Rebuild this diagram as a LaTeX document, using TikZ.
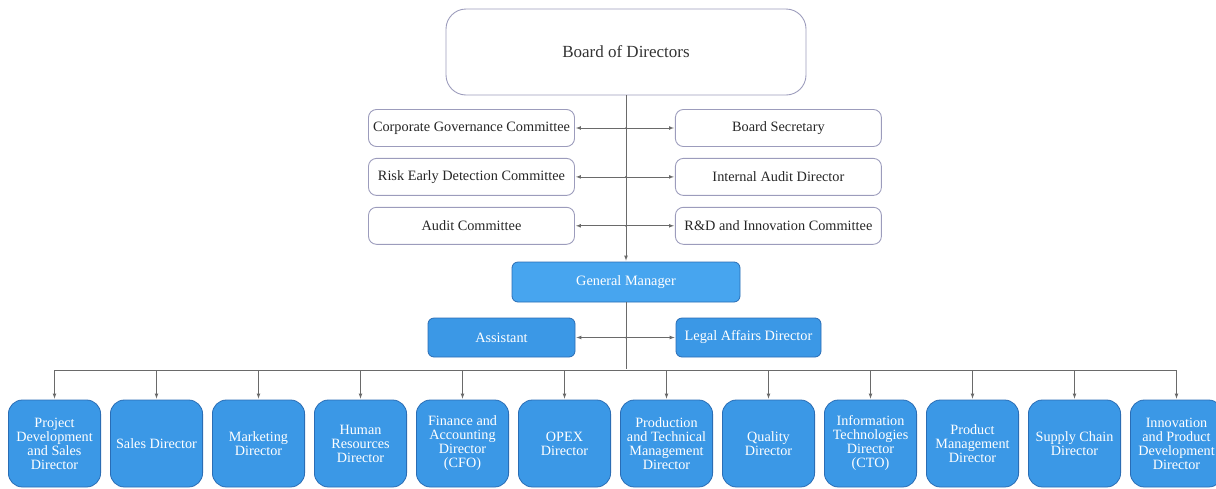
\documentclass[tikz,border=0pt]{standalone}
\usepackage{fontspec}
\setmainfont{Liberation Serif}
\usetikzlibrary{positioning,arrows}
\definecolor{boxline}{HTML}{9C9CBC}
\definecolor{unitblue}{HTML}{3B98E6}
\definecolor{unitline}{HTML}{2A6DB5}
\definecolor{gmblue}{HTML}{47A5EF}
\definecolor{linkgray}{HTML}{6A6A6A}
\def\dx{100pt}
\def\dy{11pt}
\tikzstyle{board}=[draw=boxline,line width=0.9pt,rounded corners=20pt,minimum width=360pt,minimum height=86pt,text=black!80,font=\fontsize{17}{18}\selectfont]
\tikzstyle{cmte}=[draw=boxline,line width=0.9pt,rounded corners=8pt,minimum width=206pt,minimum height=37pt,text=black!85,font=\fontsize{14.3}{15}\selectfont]
\tikzstyle{unit}=[draw=unitline,fill=unitblue,text=white,line width=0.8pt,rounded corners=6pt,minimum height=39pt,font=\fontsize{14.3}{15}\selectfont]
\tikzstyle{dept}=[unit,rounded corners=14pt,minimum width=92.2pt,minimum height=87pt,align=center,inner sep=1pt,font=\fontsize{14.2}{14}\selectfont]
\tikzstyle{link}=[draw=linkgray,line width=0.7pt]
\newcommand{\newUnit}[4]{\node[#3](#1)[#4]{#2};}
\newcommand{\newLink}[2]{\draw[link,->] (#1) -- (#2);}

\begin{document}
\begin{tikzpicture}[x=1pt,y=-1pt,node distance=\dy and \dx,
      >=latex,shorten >=1pt
      ]
      \useasboundingbox (0,0) rectangle (1216,488);
      \newUnit{board}{Board of Directors}{board}{at={(626,52)}}
      % committees
      \newUnit{cgc}{Corporate Governance Committee}{cmte}{at={(471.5,128)}}
      \newUnit{red}{Risk Early Detection Committee}{cmte}{below=of cgc}
      \newUnit{ac}{Audit Committee}{cmte}{below=of red}
      \newUnit{bs}{Board Secretary}{cmte}{right=of cgc}
      \newUnit{iad}{Internal Audit Director}{cmte}{right=of red}
      \newUnit{rdi}{R\&D and Innovation Committee}{cmte}{right=of ac}
      % management
      \newUnit{gm}{General Manager}{unit,fill=gmblue,minimum width=228pt,minimum height=40pt}{at={(626,282)}}
      \newUnit{asst}{Assistant}{unit,minimum width=147pt}{at={(501.5,337.5)}}
      \newUnit{legal}{Legal Affairs Director}{unit,minimum width=145pt}{at={(748.5,337.5)}}
      % directors
      \newUnit{d1}{Project\\Development\\and Sales\\Director}{dept}{at={(54.5,443.5)}}
      \newUnit{d2}{Sales Director}{dept}{right=9pt of d1}
      \newUnit{d3}{Marketing\\Director}{dept}{right=9pt of d2}
      \newUnit{d4}{Human\\Resources\\Director}{dept}{right=9pt of d3}
      \newUnit{d5}{Finance and\\Accounting\\Director\\(CFO)}{dept}{right=9pt of d4}
      \newUnit{d6}{OPEX\\Director}{dept}{right=9pt of d5}
      \newUnit{d7}{Production\\and Technical\\Management\\Director}{dept}{right=9pt of d6}
      \newUnit{d8}{Quality\\Director}{dept}{right=9pt of d7}
      \newUnit{d9}{Information\\Technologies\\Director\\(CTO)}{dept}{right=9pt of d8}
      \newUnit{d10}{Product\\Management\\Director}{dept}{right=9pt of d9}
      \newUnit{d11}{Supply Chain\\Director}{dept}{right=9pt of d10}
      \newUnit{d12}{Innovation\\and Product\\Development\\Director}{dept}{right=9pt of d11}
      % junctions
      \coordinate (j1) at (board.south |- cgc);
      \coordinate (j2) at (board.south |- red);
      \coordinate (j3) at (board.south |- ac);
      \coordinate (j4) at (gm.south |- asst);
      \coordinate (hub) at (626,370);
      \newLink{board}{gm}
      \newLink{j1}{cgc} \newLink{j1}{bs}
      \newLink{j2}{red} \newLink{j2}{iad}
      \newLink{j3}{ac}  \newLink{j3}{rdi}
      \newLink{j4}{asst} \newLink{j4}{legal}
      \draw[link] (gm) -- (hub);
      \draw[link] (d1.north |- hub) -- (d12.north |- hub);
      \foreach \i in {1,...,12} {\newLink{d\i.north |- hub}{d\i}}
      \foreach \j in {j1,j2,j3,j4} {\fill[linkgray] (\j) circle (1pt);}
    \end{tikzpicture}
\end{document}
